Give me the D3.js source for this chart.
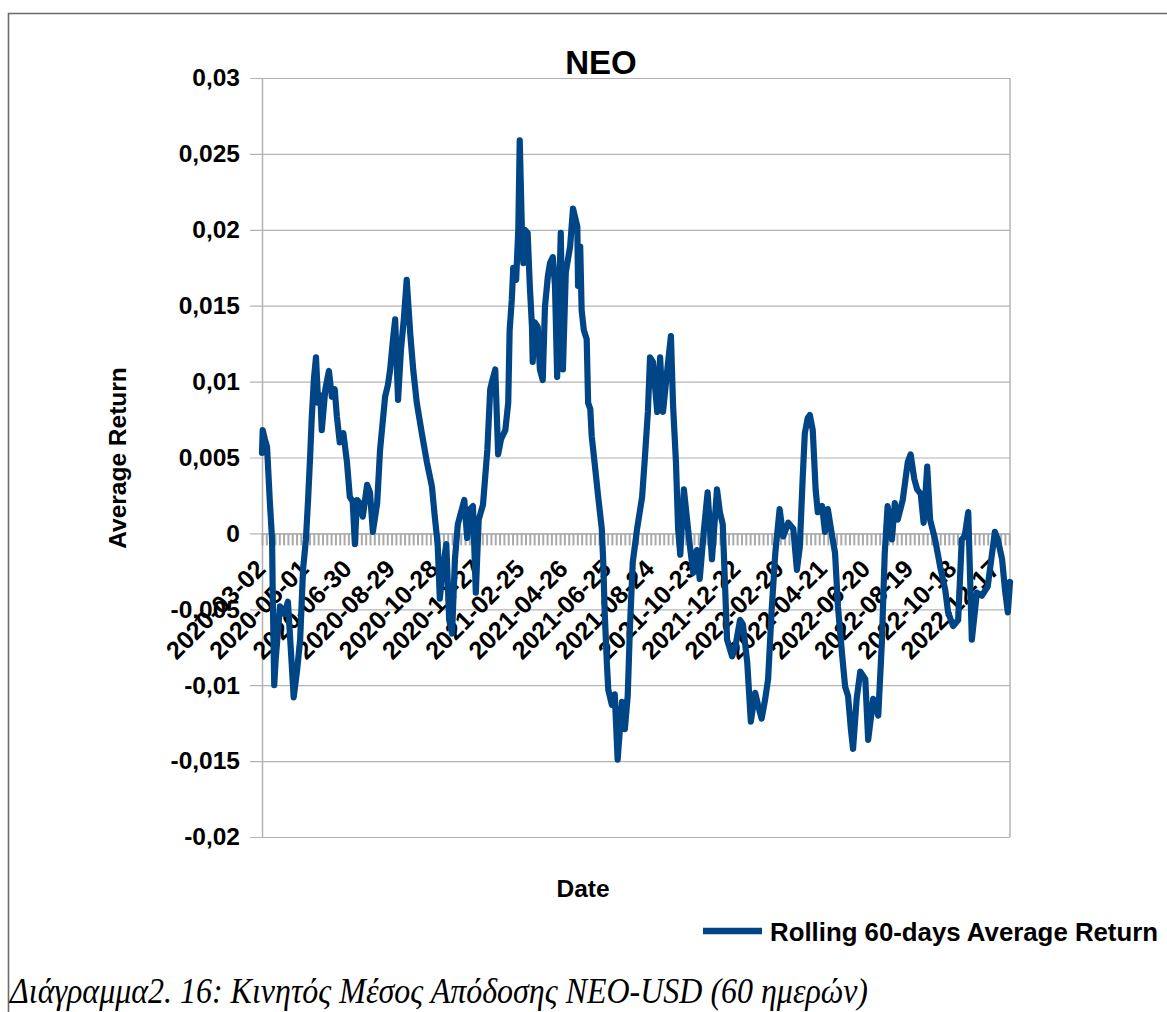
<!DOCTYPE html>
<html>
<head>
<meta charset="utf-8">
<script src="https://cdn.jsdelivr.net/npm/d3@7"></script>
<style>
	body { margin: 0; background: #ffffff; }
	svg text { font-family: "Liberation Sans", Arial, sans-serif; }
</style>
</head>
<body>
<svg id="neoChart"></svg>
<script>
//data: day offsets from the first date and the rolling 60-day mean
const startDate = "2020-03-02";
const dayOffsets = [
	0, 1, 4, 7, 11, 14, 15, 17, 19, 25, 31, 36, 40, 44, 49, 53, 57, 61, 64, 67,
	69, 72, 75, 78, 81, 83, 88, 93, 97, 101, 104, 108, 113, 118, 122, 126, 129, 132, 136, 140,
	146, 150, 154, 160, 164, 171, 175, 178, 182, 185, 189, 193, 197, 201, 206, 210, 215, 222, 229, 236,
	240, 244, 247, 251, 256, 260, 264, 268, 272, 276, 281, 285, 289, 293, 297, 301, 307, 313, 317, 319,
	324, 328, 332, 338, 342, 344, 347, 349, 353, 356, 358, 361, 363, 365, 369, 372, 375, 376, 379, 383,
	386, 390, 393, 397, 400, 404, 407, 410, 415, 418, 422, 428, 432, 438, 439, 442, 444, 447, 451, 453,
	456, 458, 463, 467, 472, 474, 476, 479, 481, 486, 490, 494, 500, 504, 508, 511, 515, 521, 528, 532,
	536, 539, 543, 549, 553, 557, 563, 568, 571, 575, 578, 581, 586, 590, 594, 599, 604, 608, 614, 619,
	625, 632, 636, 640, 646, 653, 657, 664, 668, 674, 679, 685, 689, 694, 699, 703, 708, 713, 719, 724,
	731, 738, 743, 747, 751, 754, 758, 761, 765, 769, 772, 778, 782, 786, 792, 796, 800, 806, 810, 814,
	818, 821, 826, 831, 838, 842, 849, 856, 861, 865, 869, 875, 879, 883, 890, 897, 901, 906, 910, 915,
	919, 924, 928, 935, 942, 949, 953, 960, 967, 972, 976, 981, 986, 993, 1000, 1008, 1018, 1022, 1028, 1032,
	1036, 1039
];
const avgReturn = [
	0.0053, 0.0068, 0.0062, 0.0057, 0.0020, -0.0004, -0.0043, -0.0100, -0.0083, -0.0048,
	-0.0053, -0.0045, -0.0076, -0.0108, -0.0089, -0.0070, -0.0024, -0.0004, 0.0022, 0.0052,
	0.0075, 0.0101, 0.0116, 0.0086, 0.0091, 0.0068, 0.0095, 0.0107, 0.0090, 0.0095,
	0.0077, 0.0060, 0.0066, 0.0047, 0.0024, 0.0021, -0.0007, 0.0022, 0.0020, 0.0011,
	0.0032, 0.0027, 0.0001, 0.0020, 0.0055, 0.0090, 0.0098, 0.0108, 0.0128, 0.0141,
	0.0088, 0.0121, 0.0141, 0.0167, 0.0131, 0.0108, 0.0086, 0.0066, 0.0047, 0.0031,
	0.0011, -0.0007, -0.0043, -0.0024, -0.0007, -0.0057, -0.0066, -0.0017, 0.0006, 0.0013,
	0.0022, -0.0003, 0.0016, 0.0018, -0.0039, 0.0009, 0.0019, 0.0055, 0.0095, 0.0099,
	0.0108, 0.0052, 0.0062, 0.0068, 0.0086, 0.0134, 0.0154, 0.0175, 0.0167, 0.0200,
	0.0259, 0.0200, 0.0178, 0.0200, 0.0198, 0.0163, 0.0136, 0.0113, 0.0139, 0.0136,
	0.0108, 0.0101, 0.0149, 0.0169, 0.0178, 0.0182, 0.0163, 0.0103, 0.0198, 0.0108,
	0.0172, 0.0189, 0.0214, 0.0202, 0.0163, 0.0189, 0.0147, 0.0134, 0.0128, 0.0086,
	0.0082, 0.0064, 0.0042, 0.0024, 0.0003, -0.0019, -0.0052, -0.0085, -0.0103, -0.0113,
	-0.0106, -0.0149, -0.0111, -0.0129, -0.0107, -0.0063, -0.0019, 0.0003, 0.0024, 0.0051,
	0.0080, 0.0116, 0.0113, 0.0080, 0.0116, 0.0080, 0.0108, 0.0130, 0.0084, 0.0047,
	0.0003, -0.0014, 0.0029, 0.0011, -0.0007, -0.0026, -0.0011, -0.0030, 0.0003, 0.0027,
	-0.0017, 0.0029, 0.0014, 0.0006, -0.0070, -0.0081, -0.0076, -0.0057, -0.0060, -0.0085,
	-0.0124, -0.0105, -0.0113, -0.0122, -0.0109, -0.0096, -0.0050, -0.0013, 0.0016, -0.0002,
	0.0007, 0.0003, -0.0024, -0.0009, 0.0036, 0.0066, 0.0076, 0.0078, 0.0068, 0.0029,
	0.0014, 0.0018, 0.0001, 0.0016, -0.0002, -0.0013, -0.0048, -0.0081, -0.0101, -0.0107,
	-0.0129, -0.0142, -0.0109, -0.0091, -0.0096, -0.0136, -0.0109, -0.0120, -0.0072, -0.0013,
	0.0018, -0.0004, 0.0020, 0.0009, 0.0022, 0.0047, 0.0052, 0.0036, 0.0029, 0.0026,
	0.0007, 0.0044, 0.0009, -0.0004, -0.0022, -0.0037, -0.0052, -0.0061, -0.0057, -0.0004,
	-0.0002, 0.0014, -0.0070, -0.0039, -0.0041, -0.0035, 0.0001, -0.0004, -0.0017, -0.0037,
	-0.0052, -0.0032
];
const yTicks = [0.03, 0.025, 0.02, 0.015, 0.01, 0.005, 0, -0.005, -0.01, -0.015, -0.02];
const dateLabels = [
	"2020-03-02", "2020-05-01", "2020-06-30", "2020-08-29", "2020-10-28", "2020-12-27",
	"2021-02-25", "2021-04-26", "2021-06-25", "2021-08-24", "2021-10-23", "2021-12-22",
	"2022-02-20", "2022-04-21", "2022-06-20", "2022-08-19", "2022-10-18", "2022-12-17"
];
const minorTickStep = 6; //days between the small grey ticks on the zero line
const chartTitle = "NEO";
const xTitle = "Date";
const yTitle = "Average Return";
const seriesName = "Rolling 60-days Average Return";
const caption = "Διάγραμμα2. 16: Κινητός Μέσος Απόδοσης NEO-USD (60 ημερών)";

function whenDocumentLoaded(action) {
	if (document.readyState === "loading") {
		document.addEventListener("DOMContentLoaded", action);
	} else {
		action();
	}
}

class NeoChart {
	constructor() {
		this.width = 1167;
		this.height = 1012;
		this.svg = d3.select("#neoChart").attr("width", this.width).attr("height", this.height);

		this.parse = d3.utcParse("%Y-%m-%d");
		this.start = this.parse(startDate);
		this.data = dayOffsets.map((d, i) => ({
			date: d3.utcDay.offset(this.start, d),
			value: avgReturn[i],
		}));

		this.plot = { left: 262, right: 1010, top: 78, bottom: 837 };
		this.x = d3
			.scaleUtc()
			.domain(d3.extent(this.data, (d) => d.date))
			.range([this.plot.left, this.plot.right]);
		this.y = d3
			.scaleLinear()
			.domain([-0.02, 0.03])
			.range([this.plot.bottom, this.plot.top]);
		this.grey = "#b3b3b3";
	}

	drawFrame() {
		//the document frame around the figure (top and left edges show)
		this.svg.append("rect").attr("width", this.width).attr("height", this.height).attr("fill", "#fff");
		this.svg
			.append("path")
			.attr("d", `M8.5,${this.height} V13.5 H${this.width}`)
			.attr("fill", "none")
			.attr("stroke", "#6b6b6b")
			.attr("stroke-width", 1.6);
	}

	drawAxes() {
		//comma decimals and a plain hyphen for the minus sign, like the office chart
		const fmt = (v) => (v === 0 ? "0" : d3.format(".3~f")(v).replace(".", ",").replace("\u2212", "-"));

		//horizontal grid + y labels
		const yAxis = this.svg
			.append("g")
			.attr("transform", `translate(${this.plot.left},0)`)
			.call(
				d3
					.axisLeft(this.y)
					.tickValues(yTicks)
					.tickFormat(fmt)
					.tickSizeInner(-(this.plot.right - this.plot.left))
					.tickSizeOuter(0)
					.tickPadding(22)
			);
		yAxis.select(".domain").attr("stroke", this.grey).attr("stroke-width", 1.5);
		yAxis.selectAll(".tick line").attr("stroke", this.grey).attr("stroke-width", 1.2).attr("x1", -12);
		yAxis
			.selectAll(".tick text")
			.attr("fill", "#000")
			.style("font-size", "24.5px")
			.style("font-weight", "bold")
			.attr("x", -22);

		//right edge of the plot area
		this.svg
			.append("line")
			.attr("x1", this.plot.right)
			.attr("x2", this.plot.right)
			.attr("y1", this.plot.top)
			.attr("y2", this.plot.bottom)
			.attr("stroke", this.grey)
			.attr("stroke-width", 1.5);

		//category axis sits on the zero line, dense small ticks
		const minor = d3.range(0, dayOffsets[dayOffsets.length - 1] + 1, minorTickStep).map((d) =>
			d3.utcDay.offset(this.start, d)
		);
		const xAxis = this.svg
			.append("g")
			.attr("transform", `translate(0,${this.y(0)})`)
			.call(d3.axisBottom(this.x).tickValues(minor).tickFormat("").tickSizeInner(12).tickSizeOuter(0));
		xAxis.select(".domain").attr("stroke", this.grey).attr("stroke-width", 1.5);
		xAxis.selectAll(".tick line").attr("stroke", "#aaaaaa").attr("stroke-width", 2);

		//rotated date labels
		this.svg
			.append("g")
			.selectAll("text")
			.data(dateLabels)
			.enter()
			.append("text")
			.attr("transform", (d) => `translate(${this.x(this.parse(d)) + 5},${this.y(0) + 37}) rotate(-45)`)
			.attr("text-anchor", "end")
			.style("font-size", "25px")
			.style("font-weight", "bold")
			.text((d) => d);
	}

	drawLine() {
		const line = d3
			.line()
			.x((d) => this.x(d.date))
			.y((d) => this.y(d.value));
		this.svg
			.append("path")
			.datum(this.data)
			.attr("d", line)
			.attr("fill", "none")
			.attr("stroke", "#004586")
			.attr("stroke-width", 6.2)
			.attr("stroke-linejoin", "round")
			.attr("stroke-linecap", "round");
	}

	drawTexts() {
		this.svg
			.append("text")
			.attr("x", 601)
			.attr("y", 74)
			.attr("text-anchor", "middle")
			.style("font-size", "33px")
			.style("font-weight", "bold")
			.text(chartTitle);

		this.svg
			.append("text")
			.attr("transform", "translate(126,458) rotate(-90)")
			.attr("text-anchor", "middle")
			.style("font-size", "24.5px")
			.style("font-weight", "bold")
			.text(yTitle);

		this.svg
			.append("text")
			.attr("x", 583)
			.attr("y", 897)
			.attr("text-anchor", "middle")
			.style("font-size", "24.5px")
			.style("font-weight", "bold")
			.text(xTitle);

		//legend
		const legend = this.svg.append("g").attr("transform", "translate(703,931)");
		legend
			.append("line")
			.attr("x1", 0)
			.attr("x2", 59)
			.attr("stroke", "#004586")
			.attr("stroke-width", 6.5);
		legend
			.append("text")
			.attr("x", 67)
			.attr("y", 9.5)
			.style("font-size", "25.8px")
			.style("font-weight", "bold")
			.text(seriesName);

		//figure caption under the chart
		this.svg
			.append("text")
			.attr("x", 10)
			.attr("y", 1003)
			.attr("textLength", 858)
			.attr("lengthAdjust", "spacingAndGlyphs")
			.style("font-family", '"Liberation Serif", "Times New Roman", serif')
			.style("font-style", "italic")
			.style("font-size", "35px")
			.text(caption);
	}
}

whenDocumentLoaded(() => {
	const chart = new NeoChart();
	chart.drawFrame();
	chart.drawAxes();
	chart.drawLine(); //line goes over the tick marks
	chart.drawTexts();
});
</script>
</body>
</html>
